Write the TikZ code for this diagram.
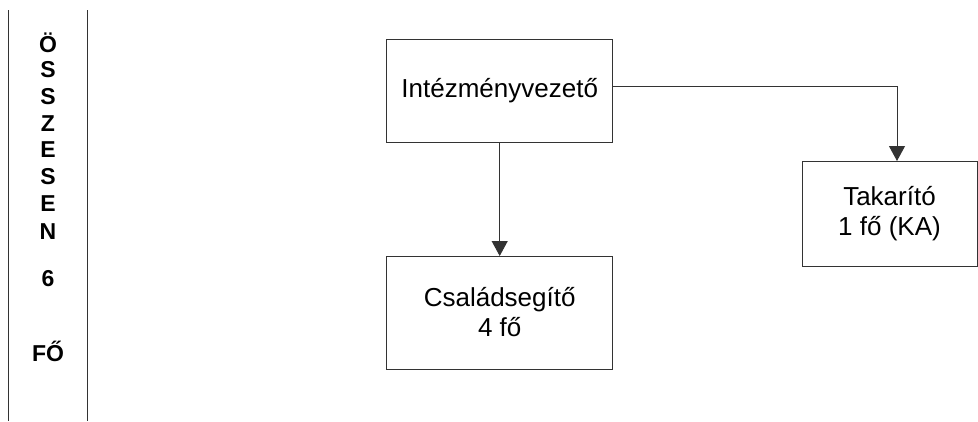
\documentclass[tikz,border=0pt]{standalone}
\usepackage{fontspec}
\setmainfont{Liberation Sans}
\usetikzlibrary{arrows.meta}
\begin{document}
\begin{tikzpicture}[x=1pt,y=-1pt,inner sep=0pt,outer sep=0pt,line width=1pt,
orgbox/.style={draw=black!80,rectangle,align=center,font=\fontsize{26}{30}\selectfont},
letter/.style={font=\bfseries\fontsize{23}{27}\selectfont},
>={Triangle[width=16pt,length=15pt]}]
\useasboundingbox (0,0) rectangle (978,421);
% left column
\draw[black!80] (8.7,10) -- (8.7,421);
\draw[black!80] (87,10) -- (87,421);
\foreach \y/\t [count=\i] in {43/\"O,70/S,97/S,124/Z,150/E,177/S,204/E,232/N,279/6,351/F\H{O}}
  \node[letter] (L\i) at (48,\y) {\t};
% boxes
\node[orgbox,minimum width=226pt,minimum height=103pt] (I) at (499.7,90.5) {Intézményvezető};
\node[orgbox,minimum width=226pt,minimum height=113pt] (C) at (499.7,312.5) {Családsegítő\\4 fő};
\node[orgbox,minimum width=175pt,minimum height=105pt] (T) at (889.5,213.5) {Takarító\\1 fő (KA)};
% connectors
\draw[->,black!80] (I.south) -- (C.north);
\draw[->,black!80] ([yshift=4.5pt]I.east) -| ([xshift=7.5pt]T.north);
\end{tikzpicture}
\end{document}
